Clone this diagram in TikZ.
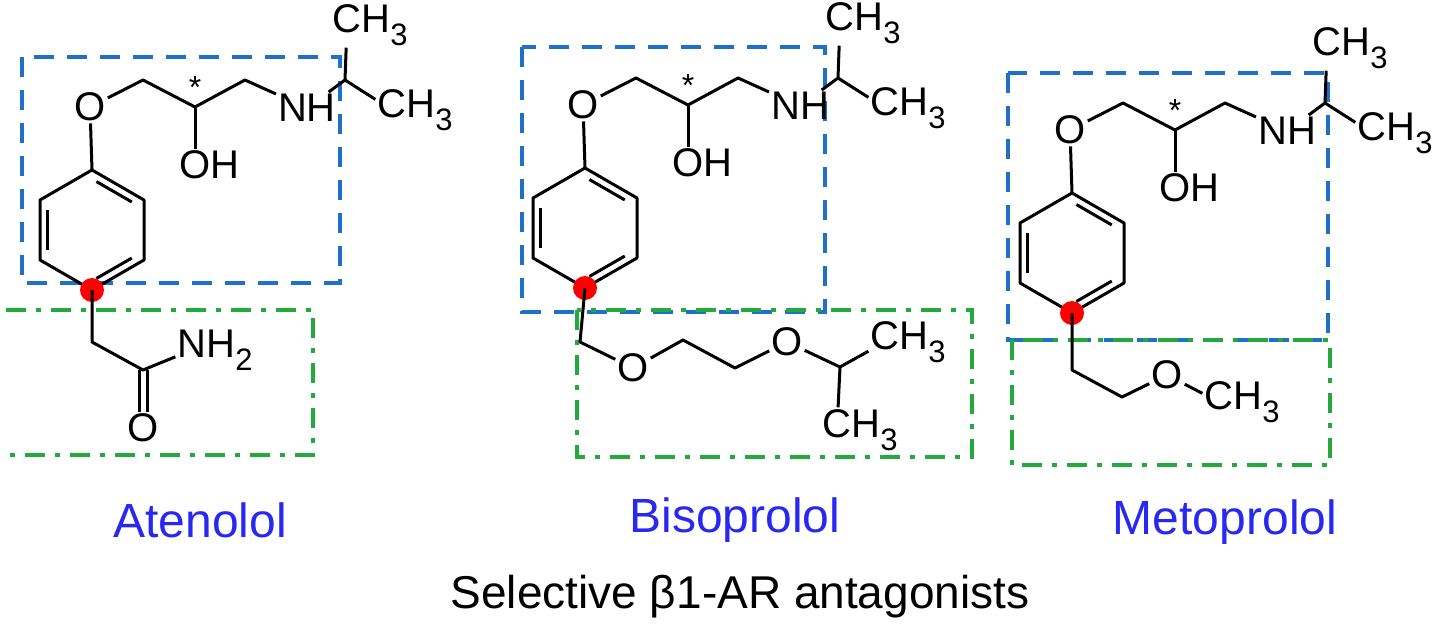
\documentclass[tikz,border=0pt]{standalone}
\usepackage{fontspec}
\setmainfont{Liberation Sans}
\usetikzlibrary{calc}
\definecolor{bx}{RGB}{30,112,200}
\definecolor{gx}{RGB}{34,170,60}
\definecolor{lb}{RGB}{40,40,240}
\newcommand\sbs[1]{\raisebox{-0.32em}{\fontsize{31}{31}\selectfont #1}}
\tikzset{
 atom/.style={font=\fontsize{40}{40}\selectfont, inner sep=2pt},
 bond/.style={line width=3pt},
 bbox/.style={draw=bx, line width=3.5pt, dash pattern=on 20pt off 13pt},
 gbox/.style={draw=gx, line width=3.5pt, dash pattern=on 20pt off 10pt on 5pt off 10pt},
 lab/.style={font=\fontsize{48}{48}\selectfont, text=lb},
 dot/.style={circle, fill=red, minimum size=24pt, inner sep=0pt}
}
\newcommand\core[3]{%
\begin{scope}[shift={(#2,#3)}]
 \node[atom] (#1O) at (0,0) {O};
 \coordinate (#1c1) at (53,-27);
 \coordinate (#1c2) at (105,0);
 \node[font=\fontsize{32}{32}\selectfont] (#1st) at (105,-20) {*};
 \node[atom] (#1oh) at (105,58) {O\rlap{H}};
 \coordinate (#1c3) at (155,-27);
 \node[atom] (#1nh) at (217,1) {NH};
 \coordinate (#1c4) at (255,-27);
 \node[atom] (#1m1) at (257,-82) {C\rlap{H\sbs{3}}};
 \node[atom] (#1m2) at (302,3) {C\rlap{H\sbs{3}}};
 \coordinate (#1ctr) at (2,123);
 \coordinate (#1r1) at (2,63);
 \coordinate (#1r2) at (54,93);
 \coordinate (#1r3) at (54,153);
 \coordinate (#1r4) at (2,183);
 \coordinate (#1r5) at (-50,153);
 \coordinate (#1r6) at (-50,93);
 \draw[bond,line join=round] (#1O) -- (#1c1) -- (#1c2) -- (#1c3) -- (#1nh) -- (#1c4) -- (#1m1);
 \draw[bond] (#1c4) -- (#1m2);
 \draw[bond] (#1c2) -- (#1oh);
 \draw[bond] (#1O) -- (#1r1);
 \draw[bond,line join=round] (#1r1) -- (#1r2) -- (#1r3) -- (#1r4) -- (#1r5) -- (#1r6) -- cycle;
 \foreach \a/\b in {r1/r2,r3/r4,r5/r6}{
  \draw[bond] ($($(#1\a)!.15!(#1ctr)$)!.1!($(#1\b)!.15!(#1ctr)$)$) -- ($($(#1\b)!.15!(#1ctr)$)!.1!($(#1\a)!.15!(#1ctr)$)$);
 }
 \node[dot] (#1dot) at (#1r4) {};
\end{scope}}
\begin{document}
\begin{tikzpicture}[x=1pt,y=-1pt]
\useasboundingbox (0,0) rectangle (1440,624);
% boxes
\draw[bbox] (22,57) rectangle (340,283);
\draw[gbox] (-10,310) rectangle (313,455);
\draw[bbox] (522,47) rectangle (825,312);
\draw[gbox] (577,310) rectangle (972,457);
\draw[bbox] (1008,73) rectangle (1328,340);
\draw[gbox] (1012,340) rectangle (1330,465);
% Atenolol
\core{A}{90}{107}
\coordinate (Aa1) at (92,342);
\coordinate (Aa2) at (143,370);
\node[atom] (Aox) at (143,428) {O};
\node[atom] (Anh) at (192,350) {N\rlap{H\sbs{2}}};
\draw[bond,line join=round] (Adot.center) -- (Aa1) -- (Aa2) -- (Anh);
\draw[bond] ($(Aa2)+(-4,0)$) -- ($(Aox.north)+(-4,0)$);
\draw[bond] ($(Aa2)+(4,0)$) -- ($(Aox.north)+(4,0)$);
% Bisoprolol
\core{B}{583}{105}
\coordinate (Bb1) at (580,342);
\node[atom] (Bo1) at (633,368) {O};
\coordinate (Bb2) at (683,340);
\coordinate (Bb3) at (735,368);
\node[atom] (Bo2) at (787,342) {O};
\coordinate (Bb4) at (840,367);
\node[atom] (Bm1) at (885,342) {C\rlap{H\sbs{3}}};
\node[atom] (Bm2) at (837,430) {C\rlap{H\sbs{3}}};
\draw[bond,line join=round] (Bdot.center) -- (Bb1) -- (Bo1) -- (Bb2) -- (Bb3) -- (Bo2) -- (Bb4) -- (Bm1);
\draw[bond] (Bb4) -- (Bm2);
% Metoprolol
\core{M}{1070}{130}
\coordinate (Mm1) at (1072,370);
\coordinate (Mm2) at (1122,397);
\node[atom] (Mo) at (1167,375) {O};
\node[atom] (Mme) at (1219,402) {C\rlap{H\sbs{3}}};
\draw[bond,line join=round] (Mdot.center) -- (Mm1) -- (Mm2) -- (Mo) -- (Mme);
% labels
\node[lab] (l1) at (200,520) {Atenolol};
\node[lab] (l2) at (735,520) {Bisoprolol};
\node[lab] (l3) at (1225,522) {Metoprolol};
\node[font=\fontsize{46}{46}\selectfont] (t) at (740,597) {Selective β1-AR antagonists};
\end{tikzpicture}
\end{document}
